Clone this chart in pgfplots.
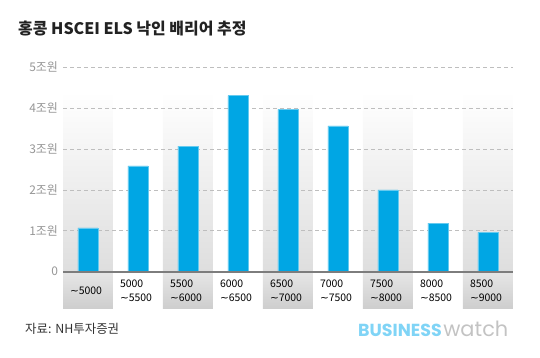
\documentclass[border=0pt]{standalone}
\usepackage{fontspec}
\setmainfont{Noto Sans CJK KR}
\newfontfamily\popfont{Poppins}
\newfontfamily\dejavu{DejaVu Sans}
\newcommand{\tl}{{\dejavu ∼}}
\usepackage{pgfplots}
\pgfplotsset{compat=1.18}
\definecolor{barblue}{RGB}{0,166,228}
\definecolor{titlecol}{RGB}{34,34,34}
\definecolor{srccol}{RGB}{51,51,51}
\definecolor{tickcol}{RGB}{150,150,150}
\definecolor{gridcol}{RGB}{190,190,190}
\definecolor{zerocol}{RGB}{125,125,125}
\definecolor{colbot}{RGB}{222,222,222}
\definecolor{celltop}{RGB}{230,230,230}
\definecolor{cellbot}{RGB}{206,206,206}
\definecolor{logoblue}{RGB}{128,212,246}
\definecolor{logogray}{RGB}{195,195,195}
\begin{document}
\begin{tikzpicture}
\path[use as bounding box] (0,0) rectangle (540bp,358bp);
\begin{axis}[
  at={(63bp,86.3bp)}, anchor=south west,
  width=450bp, height=204.4bp, scale only axis,
  xmin=-0.5, xmax=8.5, ymin=0, ymax=5,
  clip=false,
  axis line style={draw=none},
  xtick=\empty,
  ytick={0,1,2,3,4,5},
  yticklabels={0,1조원,2조원,3조원,4조원,5조원},
  major tick length=0pt,
  yticklabel style={font=\fontsize{12}{12}\selectfont, text=tickcol, xshift=-1.5bp},
]
% shaded background columns
\fill[top color=white, bottom color=colbot] (axis cs:-0.5,0) rectangle (axis cs:0.5,4.4);
\fill[top color=white, bottom color=colbot] (axis cs:1.5,0) rectangle (axis cs:2.5,4.4);
\fill[top color=white, bottom color=colbot] (axis cs:3.5,0) rectangle (axis cs:4.5,4.4);
\fill[top color=white, bottom color=colbot] (axis cs:5.5,0) rectangle (axis cs:6.5,4.4);
\fill[top color=white, bottom color=colbot] (axis cs:7.5,0) rectangle (axis cs:8.5,4.4);
% label cells
\fill[top color=celltop, bottom color=cellbot] (axis cs:-0.5,0) rectangle (axis cs:0.5,-0.89);
\fill[top color=celltop, bottom color=cellbot] (axis cs:1.5,0) rectangle (axis cs:2.5,-0.89);
\fill[top color=celltop, bottom color=cellbot] (axis cs:3.5,0) rectangle (axis cs:4.5,-0.89);
\fill[top color=celltop, bottom color=cellbot] (axis cs:5.5,0) rectangle (axis cs:6.5,-0.89);
\fill[top color=celltop, bottom color=cellbot] (axis cs:7.5,0) rectangle (axis cs:8.5,-0.89);
% grid lines
\draw[gridcol, line width=0.8bp, dash pattern=on 4bp off 3bp] (axis cs:-0.5,1) -- (axis cs:8.5,1);
\draw[gridcol, line width=0.8bp, dash pattern=on 4bp off 3bp] (axis cs:-0.5,2) -- (axis cs:8.5,2);
\draw[gridcol, line width=0.8bp, dash pattern=on 4bp off 3bp] (axis cs:-0.5,3) -- (axis cs:8.5,3);
\draw[gridcol, line width=0.8bp, dash pattern=on 4bp off 3bp] (axis cs:-0.5,4) -- (axis cs:8.5,4);
\draw[gridcol, line width=0.8bp, dash pattern=on 4bp off 3bp] (axis cs:-0.5,5) -- (axis cs:8.5,5);
% bars
\addplot[ybar, bar width=0.4, fill=barblue, draw=barblue!60, line width=0.5bp]
  coordinates {(0,1.07) (1,2.59) (2,3.07) (3,4.31) (4,3.97) (5,3.57) (6,2.00) (7,1.19) (8,0.96)};
% zero line
\draw[zerocol, line width=1.6bp] (axis cs:-0.5,0) -- (axis cs:8.5,0);
% x labels
\begin{scope}[every node/.style={align=left, anchor=center, font=\fontsize{10.5}{13.5}\selectfont, xshift=-2bp}]
\node at (axis cs:0,-0.47) {\tl5000};
\node at (axis cs:1,-0.47) {5000\\\tl5500};
\node at (axis cs:2,-0.47) {5500\\\tl6000};
\node at (axis cs:3,-0.47) {6000\\\tl6500};
\node at (axis cs:4,-0.47) {6500\\\tl7000};
\node at (axis cs:5,-0.47) {7000\\\tl7500};
\node at (axis cs:6,-0.47) {7500\\\tl8000};
\node at (axis cs:7,-0.47) {8000\\\tl8500};
\node at (axis cs:8,-0.47) {8500\\\tl9000};
\end{scope}
\end{axis}
\node[anchor=base west, inner sep=0, font=\fontsize{16}{16}\selectfont\bfseries, text=titlecol] at (18bp,323.5bp) {홍콩 HSCEI ELS 낙인 배리어 추정};
\node[anchor=base west, inner sep=0, font=\fontsize{12.5}{12.5}\selectfont, text=srccol] at (25bp,25bp) {자료: NH투자증권};
\node[anchor=base west, inner sep=0] at (358bp,22bp) {\popfont\textcolor{logoblue}{\fontsize{17.5}{17.5}\selectfont\bfseries BUSINESS}\hspace{1.5bp}\textcolor{logogray}{\fontsize{21}{21}\selectfont watch}};
\end{tikzpicture}
\end{document}
